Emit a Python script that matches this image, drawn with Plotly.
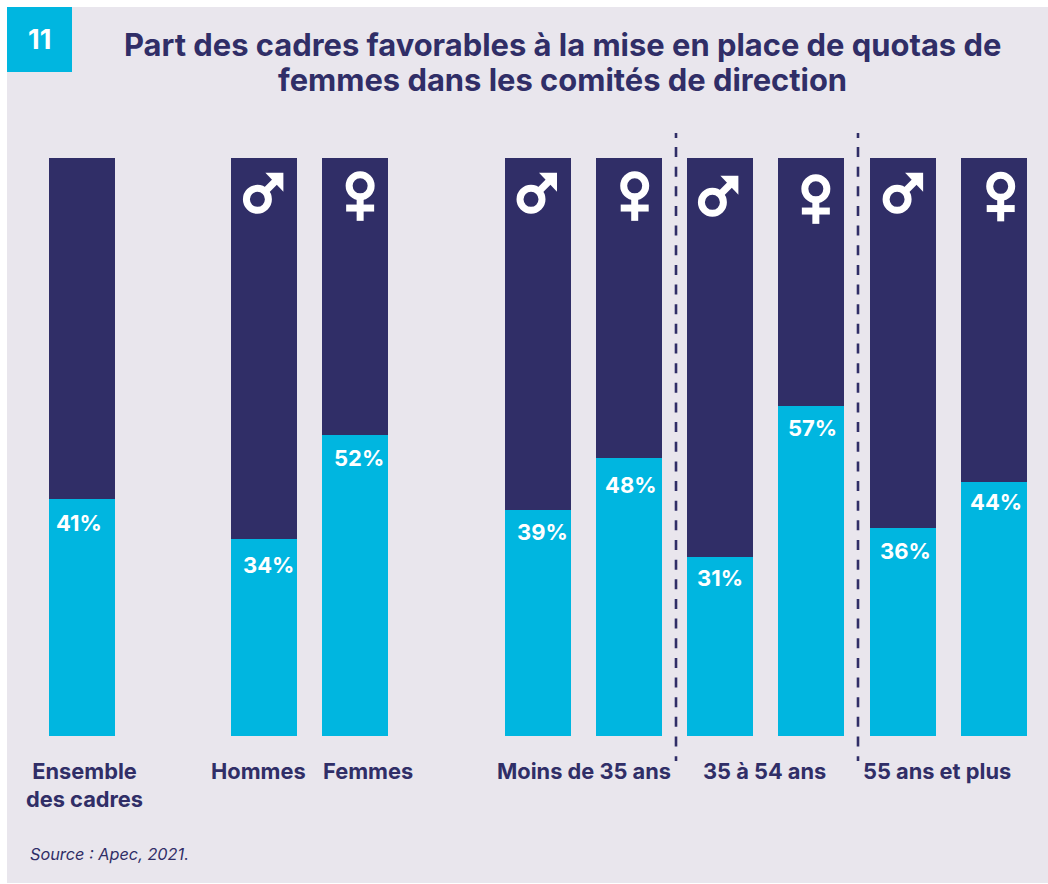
import plotly.graph_objects as go

# Survey results: share of managers in favour of quotas, by group
bar_groups = ["Ensemble", "Hommes", "Femmes", "H -35", "F -35", "H 35-54", "F 35-54", "H 55+", "F 55+"]
favorable = [41, 34, 52, 39, 48, 31, 57, 36, 44]
remainder = [100 - v for v in favorable]
slots = [0, 2, 2.995, 5, 6, 7, 7.995, 9, 10]

group_labels = ["Ensemble<br>des cadres", "Hommes", "Femmes", "Moins de 35 ans", "35 à 54 ans", "55 ans et plus"]

TITLE_LINES = ["Part des cadres favorables à la mise en place de quotas de",
               "femmes dans les comités de direction"]
SOURCE = "Source : Apec, 2021."

NAVY = "#302e67"
CYAN = "#00b6e0"
PANEL = "#e9e6ed"
FONT = "Inter"

W, H = 1048, 884
PX_PER_SLOT = 91.2
PX_PER_PCT = 5.78
ORIGIN_X, ORIGIN_Y = 82, 735.85


def fx(px):
    return px / W


def fy(px):
    return 1 - px / H


fig = go.Figure()
fig.add_bar(x=slots, y=favorable, width=0.7237, marker=dict(color=CYAN, line_width=0), name="Favorables", customdata=bar_groups)
fig.add_bar(x=slots, y=remainder, width=0.7237, marker=dict(color=NAVY, line_width=0), name="Autres", customdata=bar_groups)

shapes = [
    # background panel and number badge
    dict(type="rect", xref="paper", yref="paper", x0=fx(7), x1=1, y0=fy(883), y1=fy(7),
         fillcolor=PANEL, line_width=0, layer="below"),
    dict(type="rect", xref="paper", yref="paper", x0=fx(7), x1=fx(72), y0=fy(72), y1=fy(7),
         fillcolor=CYAN, line_width=0, layer="below"),
]

# dashed separators between age groups
for sep_x in (676, 858):
    shapes.append(dict(type="line", xref="paper", yref="paper", x0=fx(sep_x), x1=fx(sep_x), y0=fy(133), y1=fy(138),
                       line=dict(color=NAVY, width=2.6)))
    shapes.append(dict(type="line", xref="paper", yref="paper", x0=fx(sep_x), x1=fx(sep_x), y0=fy(147), y1=fy(761),
                       line=dict(color=NAVY, width=2.6, dash="10px,9.65px")))


def pix_shape(slot, **kw):
    return dict(xref="x", yref="y", xsizemode="pixel", ysizemode="pixel", xanchor=slot, yanchor=100, **kw)


def ring(slot, cx, cy):
    return pix_shape(slot, type="circle", x0=cx - 11, x1=cx + 11, y0=-cy - 11, y1=-cy + 11,
                     line=dict(color="white", width=7), fillcolor="rgba(0,0,0,0)")


def poly(slot, pts):
    path = "M" + " L".join(f"{x},{-y}" for x, y in pts) + " Z"
    return pix_shape(slot, type="path", path=path, fillcolor="white", line_width=0)


def male(slot, cx, cy):
    tx, ty = cx + 26, cy - 26.5
    return [
        ring(slot, cx, cy),
        poly(slot, [(tx - 18, ty), (tx, ty), (tx, ty + 19)]),
        poly(slot, [(cx + 5.5, cy - 10.5), (cx + 10.5, cy - 5.5), (cx + 22, cy - 17), (cx + 17, cy - 22)]),
    ]


def female(slot, cx, cy):
    return [
        ring(slot, cx, cy),
        poly(slot, [(cx - 3.5, cy + 13), (cx + 3.5, cy + 13), (cx + 3.5, cy + 35), (cx - 3.5, cy + 35)]),
        poly(slot, [(cx - 14, cy + 18.7), (cx + 14, cy + 18.7), (cx + 14, cy + 25.7), (cx - 14, cy + 25.7)]),
    ]


# gender glyphs at the top of each split bar
glyphs = [
    (male, slots[1], -7, 41.5), (female, slots[2], 5, 28),
    (male, slots[3], -7, 41.5), (female, slots[4], 5.5, 28),
    (male, slots[5], -8, 44.5), (female, slots[6], 4.7, 31),
    (male, slots[7], -5.7, 41.5), (female, slots[8], 6.7, 28.5),
]
for draw, slot, cx, cy in glyphs:
    shapes.extend(draw(slot, cx, cy))

annotations = []

# value labels sit just under the top of each cyan segment
value_dx = [-3, 4, 4, 4, 2, 0, 1, 3, 2]
value_dy = [24, 26, 23, 22, 27, 21, 22, 23, 20]
for slot, val, dx, dy in zip(slots, favorable, value_dx, value_dy):
    annotations.append(dict(x=slot, y=val, xref="x", yref="y", text=f"{val}%", showarrow=False,
                            xshift=dx, yshift=-dy, font=dict(family=FONT, size=22, color="white", weight=700)))

# group captions under the bars
caption_px = [(84.5, 784.5), (258.5, 771), (368, 771), (583.5, 771), (764, 771), (936.5, 771)]
for text, (px, py) in zip(group_labels, caption_px):
    annotations.append(dict(x=fx(px), y=fy(py), xref="paper", yref="paper", text=text, showarrow=False,
                            xanchor="center", yanchor="middle", align="center",
                            font=dict(family=FONT, size=21.8, color=NAVY, weight=700)))

for line, py in zip(TITLE_LINES, (44, 79.5)):
    annotations.append(dict(x=fx(562), y=fy(py), xref="paper", yref="paper", text=line, showarrow=False,
                            xanchor="center", yanchor="middle",
                            font=dict(family=FONT, size=30.9, color=NAVY, weight=700)))

annotations.append(dict(x=fx(28), y=fy(854), xref="paper", yref="paper", text=f"<i>{SOURCE}</i>", showarrow=False,
                        xanchor="left", yanchor="middle", font=dict(family=FONT, size=16.3, color=NAVY)))
annotations.append(dict(x=fx(39.5), y=fy(40), xref="paper", yref="paper", text="11", showarrow=False,
                        xanchor="center", yanchor="middle", font=dict(family=FONT, size=27, color="white", weight=700)))

fig.update_layout(
    width=W, height=H, margin=dict(l=0, r=0, t=0, b=0), autosize=False,
    paper_bgcolor="white", plot_bgcolor="rgba(0,0,0,0)", barmode="stack", showlegend=False, bargap=0,
    xaxis=dict(range=[-ORIGIN_X / PX_PER_SLOT, (W - ORIGIN_X) / PX_PER_SLOT], visible=False, fixedrange=True),
    yaxis=dict(range=[-(H - ORIGIN_Y) / PX_PER_PCT, ORIGIN_Y / PX_PER_PCT], visible=False, fixedrange=True),
    shapes=shapes, annotations=annotations,
)
fig.write_html("out.html", config=dict(displayModeBar=False))
